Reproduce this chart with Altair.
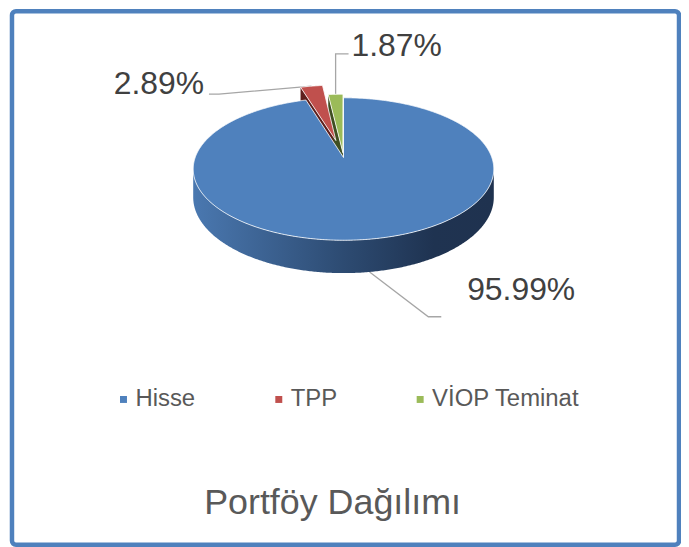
import math
import pandas as pd
import altair as alt

# ---- data ----
categories = ["Hisse", "TPP", "VİOP Teminat"]
values = [95.99, 2.89, 1.87]
labels = ["95.99%", "2.89%", "1.87%"]
chart_title = "Portföy Dağılımı"

# ---- styles ----
top_colors = ["#4F81BD", "#C0504D", "#9BBB59"]
face_colors = ["#2f4f78", "#5e1f1d", "#3f4f21"]
explode = [0.0, 0.26, 0.07]
FONT = "Liberation Sans"

# 3-D pie geometry (page pixels), perspective-tilted disk
CX, CY = 345.0, 157.0
A, B, K, D = 149.0, 69.7, 0.161, 27.7

# leader layout per slice: elbow offset, end offset, label offset, align
leader_style = {
    "Hisse": dict(elbow=(59, 45), end=(72, 45), lab=(26, -17), align="left"),
    "TPP": dict(elbow=(-93, 8), end=(-103, 8), lab=(-5, 0), align="right"),
    "VİOP Teminat": dict(elbow=(0, -40.5), end=(13, -40.5), lab=(3, 2), align="left"),
}


def proj(u, v, bottom=False):
    w = 1 - K * v
    x = CX + A * u / w
    y = CY + B * v / w
    if bottom:
        y += D / w
    return x, y


total = sum(values)
starts, ends, acc = [], [], 0.0
for val in values:
    starts.append(acc / total * 360.0)
    acc += val
    ends.append(acc / total * 360.0)


def off(idx):
    m = math.radians((starts[idx] + ends[idx]) / 2)
    e = explode[idx]
    return e * math.sin(m), -e * math.cos(m)


def rim(idx, deg):
    ou, ov = off(idx)
    t = math.radians(deg)
    return math.sin(t) + ou, -math.cos(t) + ov


def arc_pts(idx, a0, a1, bottom=False):
    n = max(2, int(abs(a1 - a0) / 0.5) + 1)
    pts = []
    for j in range(n):
        d = a0 + (a1 - a0) * j / (n - 1)
        u, v = rim(idx, d)
        pts.append(proj(u, v, bottom))
    return pts


rows_top, rows_face, rows_wall = [], [], []


def add(rows, name, cat, pts):
    pts = pts + [pts[0]]
    for i, (x, y) in enumerate(pts):
        rows.append(dict(poly=name, cat=cat, i=i, x=x, y=y))


for idx, cat in enumerate(categories):
    ou, ov = off(idx)
    c_top = proj(ou, ov)
    add(rows_top, "top_" + cat, cat, [c_top] + arc_pts(idx, starts[idx], ends[idx]))
    if idx > 0:
        # visible radial face at start angle
        u, v = rim(idx, starts[idx])
        pts = [c_top, proj(u, v), proj(u, v, True), proj(ou, ov, True)]
        add(rows_face, "face_" + cat, cat, pts)

# front wall of the big slice: between the silhouette extremes
th = math.degrees(math.acos(-K))
wall = arc_pts(0, th, 360 - th) + arc_pts(0, 360 - th, th, bottom=True)
add(rows_wall, "wall", categories[0], wall)

# leader lines and labels
rows_lead, rows_lab = [], []
for idx, cat in enumerate(categories):
    m = (starts[idx] + ends[idx]) / 2
    u, v = rim(idx, m)
    front = -math.cos(math.radians(m)) > K
    ax, ay = proj(u, v, bottom=front)
    st = leader_style[cat]
    pts = [(ax, ay), (ax + st["elbow"][0], ay + st["elbow"][1]), (ax + st["end"][0], ay + st["end"][1])]
    for i, (x, y) in enumerate(pts):
        rows_lead.append(dict(poly="lead_" + cat, i=i, x=x, y=y))
    ex, ey = pts[-1]
    rows_lab.append(dict(label=labels[idx], x=ex + st["lab"][0], y=ey + st["lab"][1], align=st["align"]))

df_top = pd.DataFrame(rows_top)
df_face = pd.DataFrame(rows_face)
df_wall = pd.DataFrame(rows_wall)
df_lead = pd.DataFrame(rows_lead)
df_lab = pd.DataFrame(rows_lab)

W, H = 670, 536
X0, Y0 = 12, 10
xs = alt.Scale(domain=[X0, X0 + W], nice=False, zero=False)
ys = alt.Scale(domain=[Y0, Y0 + H], nice=False, zero=False, reverse=True)
X = alt.X("x:Q", scale=xs, axis=None)
Y = alt.Y("y:Q", scale=ys, axis=None)

leads = alt.Chart(df_lead).mark_line(color="#a6a6a6", strokeWidth=1.3).encode(
    x=X, y=Y, order="i:Q", detail="poly:N")

face_red = alt.Chart(df_face).transform_filter(alt.datum.cat == "TPP").mark_line(
    fill=face_colors[1], strokeWidth=0).encode(x=X, y=Y, order="i:Q", detail="poly:N")
face_green = alt.Chart(df_face).transform_filter(alt.datum.cat == "VİOP Teminat").mark_line(
    fill=face_colors[2], strokeWidth=0).encode(x=X, y=Y, order="i:Q", detail="poly:N")

grad = alt.Gradient(
    gradient="linear",
    stops=[alt.GradientStop(offset=0, color="#4a78b0"),
           alt.GradientStop(offset=0.5, color="#2d4b72"),
           alt.GradientStop(offset=0.8, color="#1f3351"),
           alt.GradientStop(offset=1, color="#1f324f")],
    x1=0, x2=1, y1=0, y2=0)
wall_layer = alt.Chart(df_wall).mark_line(fill=grad, strokeWidth=0).encode(
    x=X, y=Y, order="i:Q", detail="poly:N")

tops = alt.Chart(df_top).mark_line(stroke="white", strokeWidth=1, strokeOpacity=0.8).encode(
    x=X, y=Y, order="i:Q", detail="poly:N",
    fill=alt.Fill("cat:N", scale=alt.Scale(domain=categories, range=top_colors),
                  legend=alt.Legend(orient="none", legendX=97, legendY=378,
                                    direction="horizontal", title=None,
                                    symbolType="square", symbolSize=49,
                                    symbolStrokeWidth=0, symbolOpacity=1,
                                    symbolOffset=3,
                                    labelFont=FONT, labelFontSize=24,
                                    labelColor="#595959", labelOffset=0,
                                    columnPadding=68, padding=0, labelLimit=400)))

txt_left = alt.Chart(df_lab).transform_filter(alt.datum.align == "left").mark_text(
    align="left", baseline="alphabetic", font=FONT, fontSize=32, color="#404040").encode(
    x=X, y=Y, text="label:N")
txt_right = alt.Chart(df_lab).transform_filter(alt.datum.align == "right").mark_text(
    align="right", baseline="alphabetic", font=FONT, fontSize=32, color="#404040").encode(
    x=X, y=Y, text="label:N")

chart = alt.layer(leads, face_red, face_green, wall_layer, tops, txt_left, txt_right).properties(
    width=W, height=H,
    autosize="none",
    padding={"left": 4, "top": 2, "right": 2, "bottom": 2},
    title=alt.TitleParams(chart_title, orient="bottom", anchor="middle", font=FONT,
                          fontSize=36, fontWeight="normal", color="#595959",
                          offset=0, baseline="alphabetic", dy=-31, dx=-13),
).configure_view(stroke="#4F81BD", strokeWidth=4.5, cornerRadius=4)

chart.save("out.html", embed_options={"renderer": "svg", "actions": False})
